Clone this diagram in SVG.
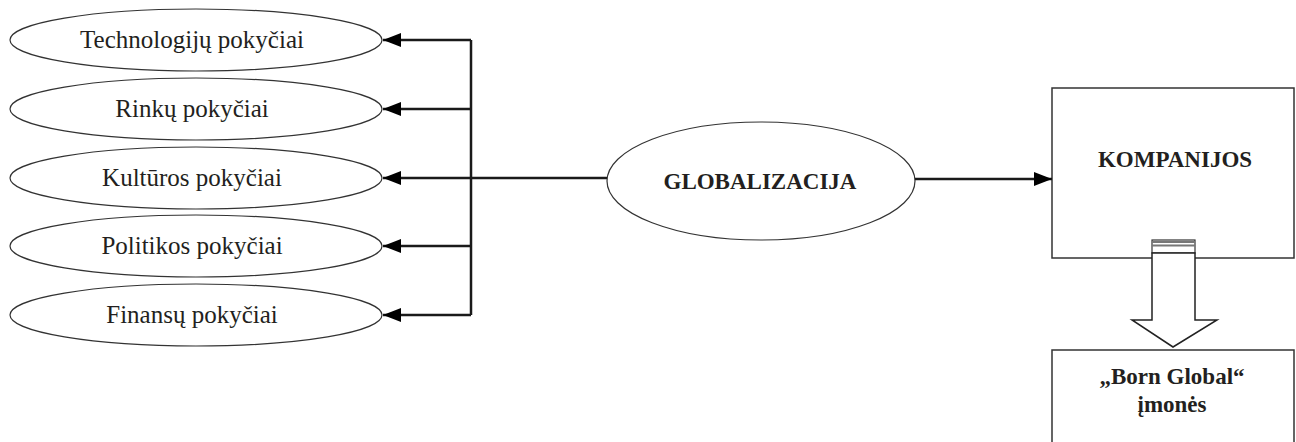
<svg xmlns="http://www.w3.org/2000/svg" width="1296" height="442" viewBox="0 0 1296 442">
<defs>
<marker id="ah" markerWidth="18" markerHeight="14" refX="18" refY="7" orient="auto" markerUnits="userSpaceOnUse">
<path d="M0,0 L18,7 L0,14 Z" fill="#000"/>
</marker>
<style>
.el{fill:#fff;stroke:#333;stroke-width:1.2}
.bx{fill:#fff;stroke:#333;stroke-width:1.5}
.t{font-family:"Liberation Serif","Times New Roman",serif;font-size:25px;fill:#231f20;text-anchor:middle}
.b{font-family:"Liberation Serif","Times New Roman",serif;font-size:23px;font-weight:bold;fill:#231f20;text-anchor:middle}
.ln{fill:none;stroke:#1a1a1a;stroke-width:2.5}
</style>
</defs>
<rect width="1296" height="442" fill="#fff"/>
<g id="n-tech"><ellipse class="el" cx="196" cy="40" rx="186" ry="31"/><text class="t" x="192" y="48">Technologijų pokyčiai</text></g>
<g id="n-rinku"><ellipse class="el" cx="196" cy="109" rx="186" ry="31"/><text class="t" x="192" y="117">Rinkų pokyčiai</text></g>
<g id="n-kult"><ellipse class="el" cx="196" cy="178" rx="186" ry="31"/><text class="t" x="192" y="186">Kultūros pokyčiai</text></g>
<g id="n-polit"><ellipse class="el" cx="196" cy="246" rx="186" ry="31"/><text class="t" x="192" y="254">Politikos pokyčiai</text></g>
<g id="n-fin"><ellipse class="el" cx="196" cy="315" rx="186" ry="31"/><text class="t" x="192" y="323">Finansų pokyčiai</text></g>
<g id="n-glob"><ellipse class="el" cx="761" cy="181" rx="154" ry="59"/><text class="b" x="760" y="189">GLOBALIZACIJA</text></g>
<g id="n-komp"><rect class="bx" x="1052" y="88" width="242" height="170"/><text class="b" x="1175" y="167" font-size="22">KOMPANIJOS</text></g>
<g id="n-born"><rect class="bx" x="1052" y="350" width="242" height="100"/><text class="b" x="1172" y="384">„Born Global“</text><text class="b" x="1172" y="412">įmonės</text></g>
<g id="connectors">
<path class="ln" d="M471,40 V315"/>
<path class="ln" d="M471,40 H383" marker-end="url(#ah)"/>
<path class="ln" d="M471,109 H383" marker-end="url(#ah)"/>
<path class="ln" d="M607,178 H383" marker-end="url(#ah)"/>
<path class="ln" d="M471,246 H383" marker-end="url(#ah)"/>
<path class="ln" d="M471,315 H383" marker-end="url(#ah)"/>
<path class="ln" d="M915,179 H1052" marker-end="url(#ah)"/>
<rect x="1152" y="240" width="43" height="13" fill="#fff" stroke="#333" stroke-width="1.2"/>
<path d="M1152,242 H1195 M1152,245.5 H1195" stroke="#777" stroke-width="2"/>
<path d="M1152,253 H1195 V320 H1217 L1173,347 L1132,320 H1152 Z" fill="#fff" stroke="#222" stroke-width="1.5"/>
</g>
</svg>
